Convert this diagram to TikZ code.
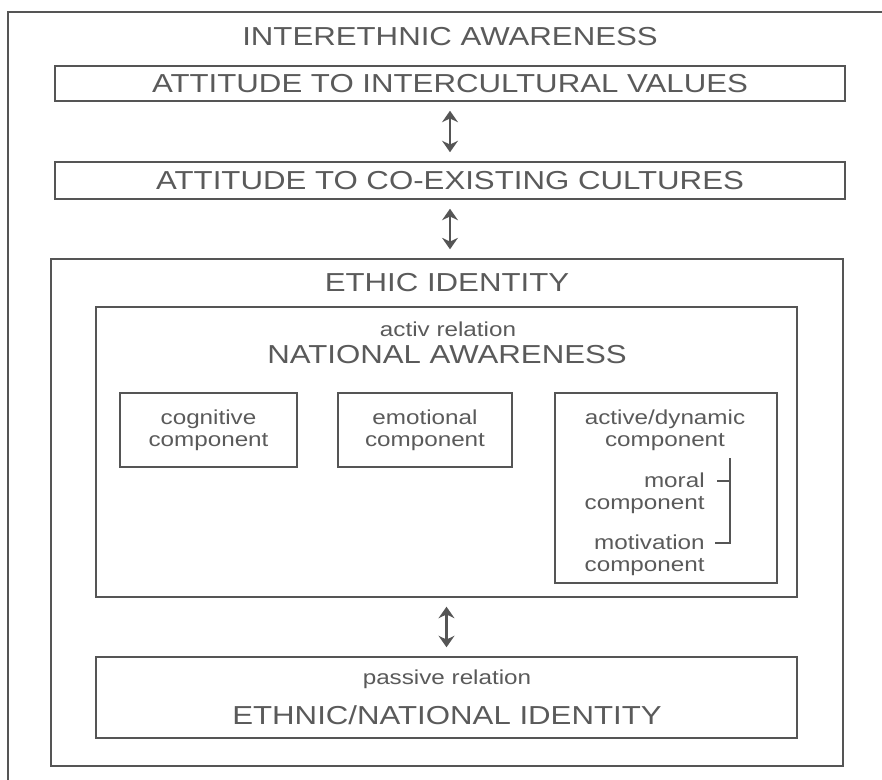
\documentclass[tikz,border=0pt]{standalone}
\usepackage{fontspec}
\setmainfont{Liberation Sans}[FakeStretch=1.2]
\usepackage{tikz}
\usetikzlibrary{arrows.meta, positioning}
\definecolor{inkgray}{HTML}{555555}
\definecolor{textgray}{HTML}{5A5A5A}
\tikzset{
    x=0.02cm, y=-0.02cm, % one unit is one pixel of the scan, y runs downwards
    frame/.style={draw=inkgray, line width=1.1pt}, % the outer frame
    box/.style={draw=inkgray, line width=1.1pt, inner sep=0pt, text=textgray}, % every boxed level
    heading/.style={text=textgray, inner sep=0pt, font=\fontsize{14.8}{17}\selectfont}, % capital titles
    small/.style={text=textgray, inner sep=0pt, align=center, font=\fontsize{11.5}{12.5}\selectfont}, % lower case labels
    link/.style={{Stealth[length=6.5pt,width=9pt]}-{Stealth[length=6.5pt,width=9pt]}, draw=inkgray, line width=1.6pt, shorten <=5pt, shorten >=5pt}, % two-way arrows
    bracket/.style={draw=inkgray, line width=0.8pt}, % bracket of the sub components
}

\begin{document}
\begin{tikzpicture}
    \useasboundingbox (0,0) rectangle (882,780);
    \draw[frame] (8,12) rectangle (900,800);

    % levels
    % \node[<options>] (name) at (<x>,<y>) {text};
    \node[heading] (interethnic) at (450,37) {INTERETHNIC AWARENESS};
    \node[box, heading, minimum width=15.8cm, minimum height=0.7cm]  (values)   at (450,83.5)  {ATTITUDE TO INTERCULTURAL VALUES};
    \node[box, heading, minimum width=15.8cm, minimum height=0.74cm] (cultures) at (450,180.5) {ATTITUDE TO CO-EXISTING CULTURES};
    \node[box, minimum width=15.84cm, minimum height=10.14cm] (ethic)    at (447,512.5) {};
    \node[heading] (ethictitle) at (447,283) {ETHIC IDENTITY};

    % national awareness and its components
    \node[box, minimum width=14.02cm, minimum height=5.8cm] (national) at (446.5,452) {};
    \node[small] (activrel) at (448,329) {activ relation};
    \node[heading] (nattitle) at (447,355) {NATIONAL AWARENESS};
    \node[box, small, minimum width=3.54cm, minimum height=1.48cm] (cognitive) at (208.5,430) {cognitive\\component};
    \node[box, small, minimum width=3.48cm, minimum height=1.48cm] (emotional) at (425,430)   {emotional\\component};
    \node[box, minimum width=4.44cm, minimum height=3.8cm] (active) at (666,488) {};
    \node[small] (activetitle) at (665,430) {active/dynamic\\component};
    \node[small, align=right, anchor=east] (moral)      at (705,493) {moral\\component};
    \node[small, align=right, anchor=east] (motivation) at (705,555) {motivation\\component};

    % passive relation
    \node[box, minimum width=14.02cm, minimum height=1.62cm] (passive) at (446.5,697.5) {};
    \node[small] (passiverel) at (447,679) {passive relation};
    \node[heading] (passtitle) at (447,715) {ETHNIC/NATIONAL IDENTITY};

    % bracket
    \coordinate (bracktop)  at (730,458);
    \coordinate (moraltick) at (717,481);
    \coordinate (motivtick) at (715,543);
    \draw[bracket] (bracktop) -- (bracktop |- motivtick) -- (motivtick);
    \draw[bracket] (moraltick) -- (moraltick -| bracktop);

    % arrows
    \draw   (values.south) edge[link] (cultures.north)
            (cultures.south) edge[link] (cultures.south |- ethic.north)
            (national.south) edge[link] (passive.north);
\end{tikzpicture}
\end{document}
